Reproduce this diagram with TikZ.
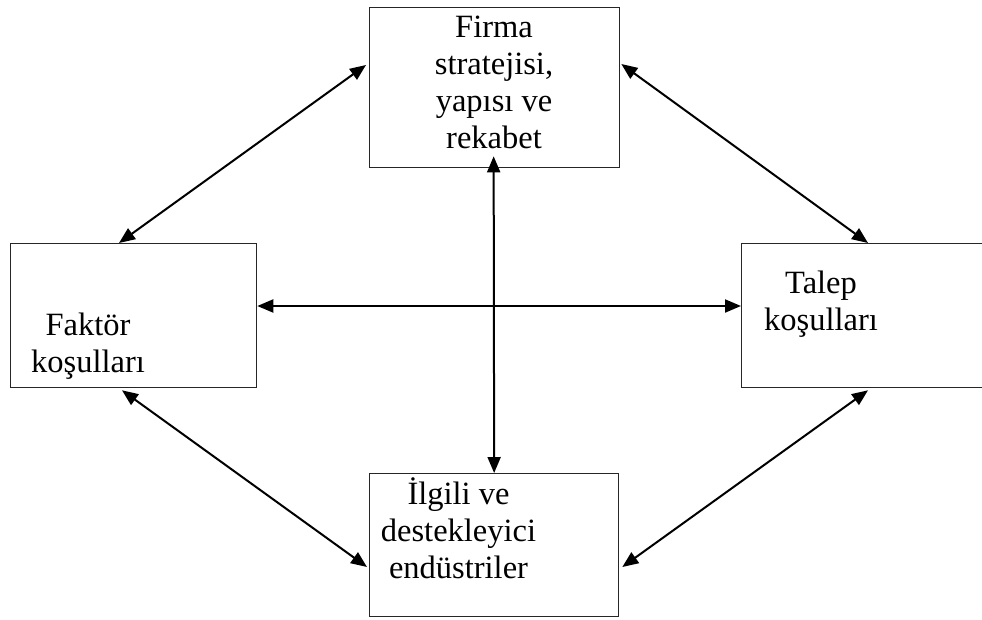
\documentclass[tikz,border=0pt]{standalone}
\usepackage{fontspec}
\setmainfont{Liberation Serif}
\usetikzlibrary{arrows.meta,calc}
\begin{document}
\begin{tikzpicture}[x=1pt,y=-1pt,
  box/.style={draw=black!85, line width=1.3pt, inner sep=0pt, anchor=north west},
  lbl/.style={font=\fontsize{32.5}{37}\selectfont, align=center, anchor=base, inner sep=0pt},
  arr/.style={{Triangle[length=16pt,width=13pt]}-{Triangle[length=16pt,width=13pt]}, line width=2pt}]
\useasboundingbox (0,0) rectangle (982,619);
\clip (0,0) rectangle (982,619);
\fill[white] (0,0) rectangle (982,619);
% boxes
\node[box, minimum width=250pt, minimum height=160pt] (ftop) at (369,7) {};
\node[box, minimum width=246pt, minimum height=144pt] (fleft) at (10,243) {};
\node[box, minimum width=250pt, minimum height=144pt] (fright) at (741,243) {};
\node[box, minimum width=249pt, minimum height=143pt] (fbot) at (369,473) {};
% texts (anchor = baseline of last line)
\node[lbl] (ttop) at (494,148) {Firma\\stratejisi,\\yapısı ve\\rekabet};
\node[lbl] (tleft) at (88,372) {Faktör\\koşulları};
\node[lbl] (tright) at (821,330) {Talep\\koşulları};
\node[lbl] (tbot) at (458.5,578) {İlgili ve\\destekleyici\\endüstriler};
% arrow ends
\coordinate (a1s) at ($(fleft.north west)+(109,0)$);
\coordinate (a1e) at ($(ftop.north west)+(-3,58)$);
\coordinate (a2s) at ($(ftop.north east)+(1,57)$);
\coordinate (a2e) at ($(fright.north west)+(127,0)$);
\coordinate (a3s) at ($(fleft.north east)+(0,63)$);
\coordinate (a3e) at ($(fright.north west)+(0,63)$);
\coordinate (a4s) at ($(ftop.south)+(-1,-12)$);
\coordinate (a4e) at (fbot.north);
\coordinate (a5s) at ($(fleft.south west)+(112,2)$);
\coordinate (a5e) at ($(fbot.north west)+(-2,94)$);
\coordinate (a6s) at ($(fbot.north east)+(3,94)$);
\coordinate (a6e) at ($(fright.south west)+(127,2)$);
% arrows
\draw[arr] (a1s) -- (a1e);
\draw[arr] (a2s) -- (a2e);
\draw[arr] (a3s) -- (a3e);
\draw[arr] (a4s) -- (a4e);
\draw[arr] (a5s) -- (a5e);
\draw[arr] (a6s) -- (a6e);
\end{tikzpicture}
\end{document}
